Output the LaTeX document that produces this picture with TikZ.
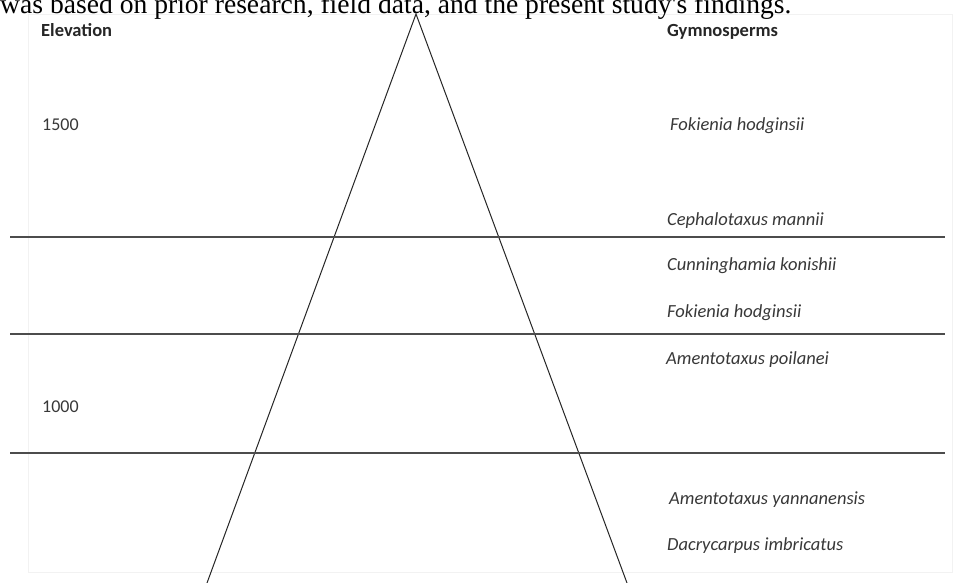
\documentclass[tikz,border=0pt]{standalone}
\usepackage{fontspec}
\setmainfont{Carlito}
\newfontfamily\captionfont{Liberation Serif}
\begin{document}
\begin{tikzpicture}[x=1pt,y=-1pt,
  lbl/.style={anchor=base west,inner sep=0pt,text=black!78,font=\fontsize{18}{20}\selectfont},
  head/.style={lbl,text=black!85,font=\fontsize{18.5}{20}\selectfont\bfseries},
  sp/.style={lbl,font=\fontsize{18.5}{20}\selectfont\itshape},
  rule/.style={line width=1.6pt,black!70},
  leg/.style={line width=1pt,black!85}]
\useasboundingbox (0,0) rectangle (955,583);
\clip (0,0) rectangle (955,583);
\fill[white] (0,0) rectangle (955,583);
\draw[black!5,line width=0.8pt] (28,14) rectangle (952,572);
\node[anchor=base west,inner sep=0pt,font=\captionfont\fontsize{27.6}{29}\selectfont] (cap) at (0,13.5) {was based on prior research, field data, and the present study's findings.};
% triangle
\coordinate (apex) at (416,14);
\coordinate (bl) at (207,583);
\coordinate (br) at (627,583);
\draw[leg] (bl) -- (apex) -- (br);
% horizontal rules
\coordinate (r1a) at (10,237); \coordinate (r1b) at (945,237);
\coordinate (r2a) at (10,334); \coordinate (r2b) at (945,334);
\coordinate (r3a) at (10,453); \coordinate (r3b) at (945,453);
\draw[rule] (r1a) -- (r1b);
\draw[rule] (r2a) -- (r2b);
\draw[rule] (r3a) -- (r3b);
% left labels
\node[head] (elev) at (41,37) {Elevation};
\node[lbl] (e1500) at (42,131) {1500};
\node[lbl] (e1000) at (42,412) {1000};
% right labels
\node[head] (gym) at (667,37) {Gymnosperms};
\node[sp] (s1) at (670,131) {Fokienia hodginsii};
\node[sp] (s2) at (667,225) {Cephalotaxus mannii};
\node[sp] (s3) at (667,270) {Cunninghamia konishii};
\node[sp] (s4) at (667,317) {Fokienia hodginsii};
\node[sp] (s5) at (666,364) {Amentotaxus poilanei};
\node[sp] (s6) at (669,504) {Amentotaxus yannanensis};
\node[sp] (s7) at (667,550) {Dacrycarpus imbricatus};
\end{tikzpicture}
\end{document}
